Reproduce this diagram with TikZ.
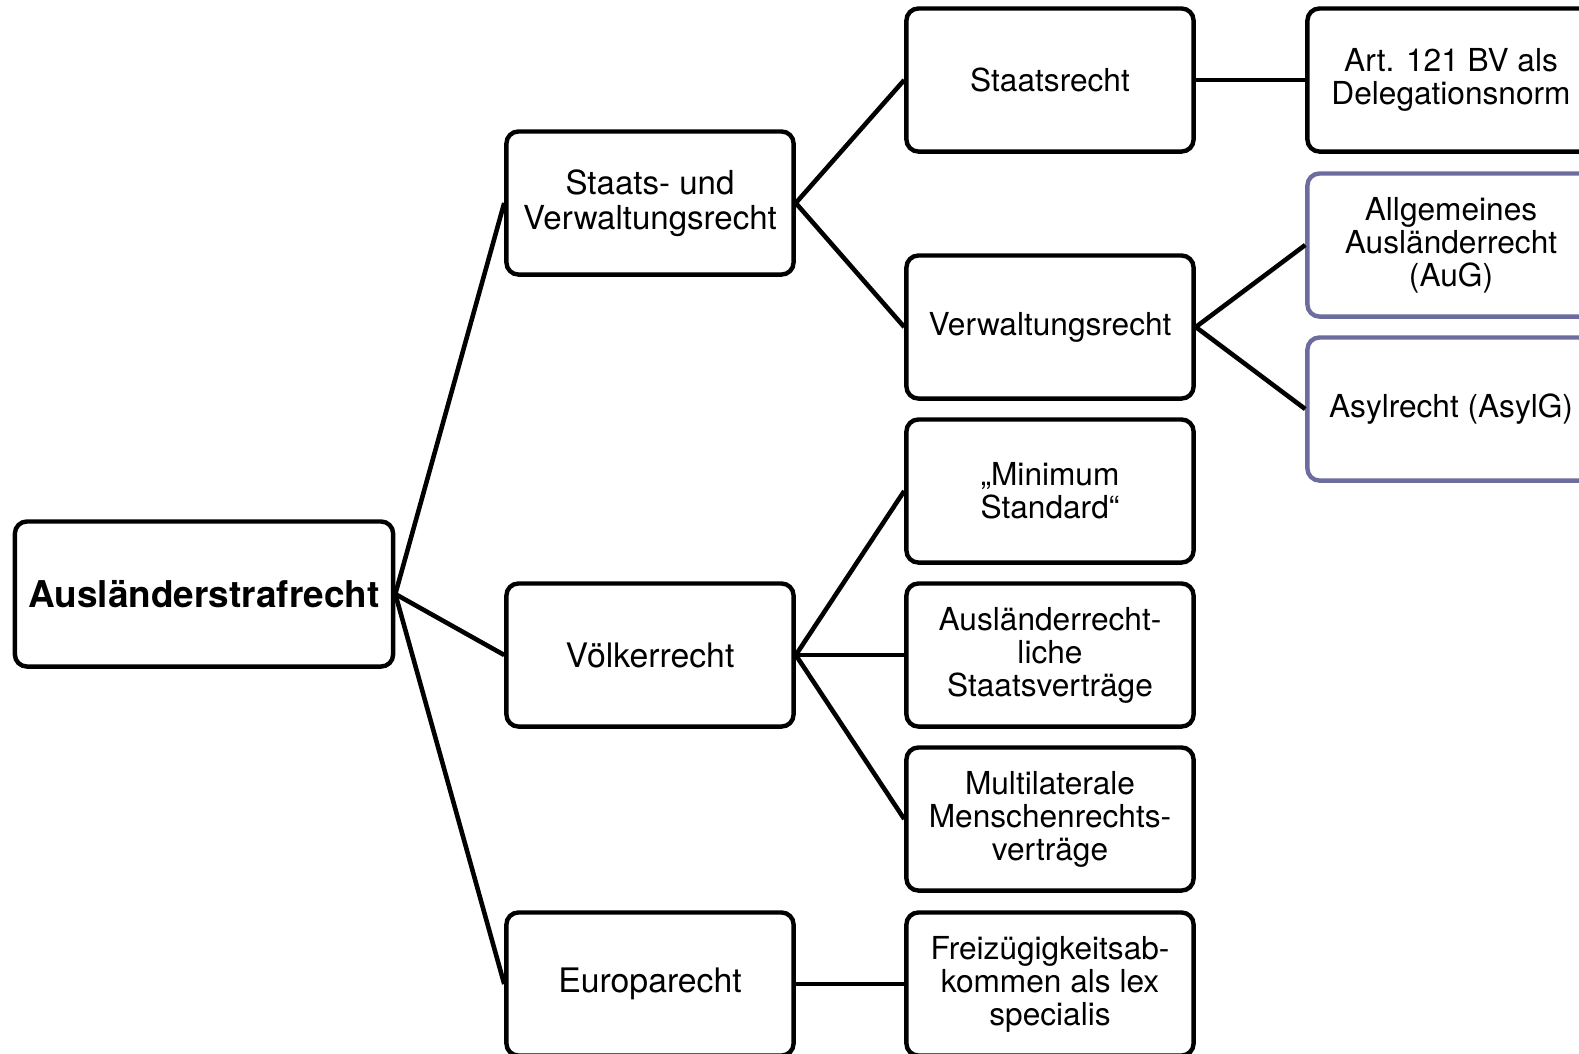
\documentclass[tikz,border=0pt]{standalone}
\usepackage{fontspec}
\setmainfont{TeX Gyre Heros}
\definecolor{lilac}{RGB}{108,108,158}

\begin{document}
\begin{tikzpicture}[x=0.01cm,y=-0.01cm,
  box/.style={draw,line width=1.25pt,rounded corners=0.12cm,minimum width=2.87cm,
    minimum height=1.43cm,align=center,inner sep=1pt,font=\fontsize{9}{9.4}\selectfont},
  mid/.style={font=\fontsize{9.6}{10}\selectfont},
  alt/.style={draw=lilac},
  link/.style={line width=1.3pt}]
\clip (0,0) rectangle (1579,1053);
% root and second column
\node[box,minimum width=3.78cm,minimum height=1.45cm,font=\fontsize{10.5}{11}\selectfont\bfseries] (root) at (204,594) {Ausländerstrafrecht};
\node[box,font=\fontsize{9.4}{10}\selectfont] (svr) at (650,203) {Staats- und\\Verwaltungsrecht};
\node[box,mid] (vr) at (650,655) {Völkerrecht};
\node[box,mid] (eur) at (650,984) {Europarecht};
% third column
\node[box] (str) at (1050,80) {Staatsrecht};
\node[box] (vwr) at (1050,327) {Verwaltungsrecht};
\node[box] (mst) at (1050,491) {„Minimum\\Standard“};
\node[box] (asv) at (1050,655) {Ausländerrecht-\\liche\\Staatsverträge};
\node[box] (mmv) at (1050,819) {Multilaterale\\Menschenrechts-\\verträge};
\node[box] (fza) at (1050,984) {Freizügigkeitsab-\\kommen als lex\\specialis};
% fourth column
\node[box] (art) at (1451,80) {Art. 121 BV als\\Delegationsnorm};
\node[box,alt] (aug) at (1451,245) {Allgemeines\\Ausländerrecht\\(AuG)};
\node[box,alt] (asy) at (1451,409) {Asylrecht (AsylG)};
% connectors
\foreach \a/\b in {root/svr,root/vr,root/eur,svr/str,svr/vwr,vr/mst,vr/asv,vr/mmv,eur/fza,str/art,vwr/aug,vwr/asy}
  \draw[link] (\a.east) -- (\b.west);
\end{tikzpicture}
\end{document}
